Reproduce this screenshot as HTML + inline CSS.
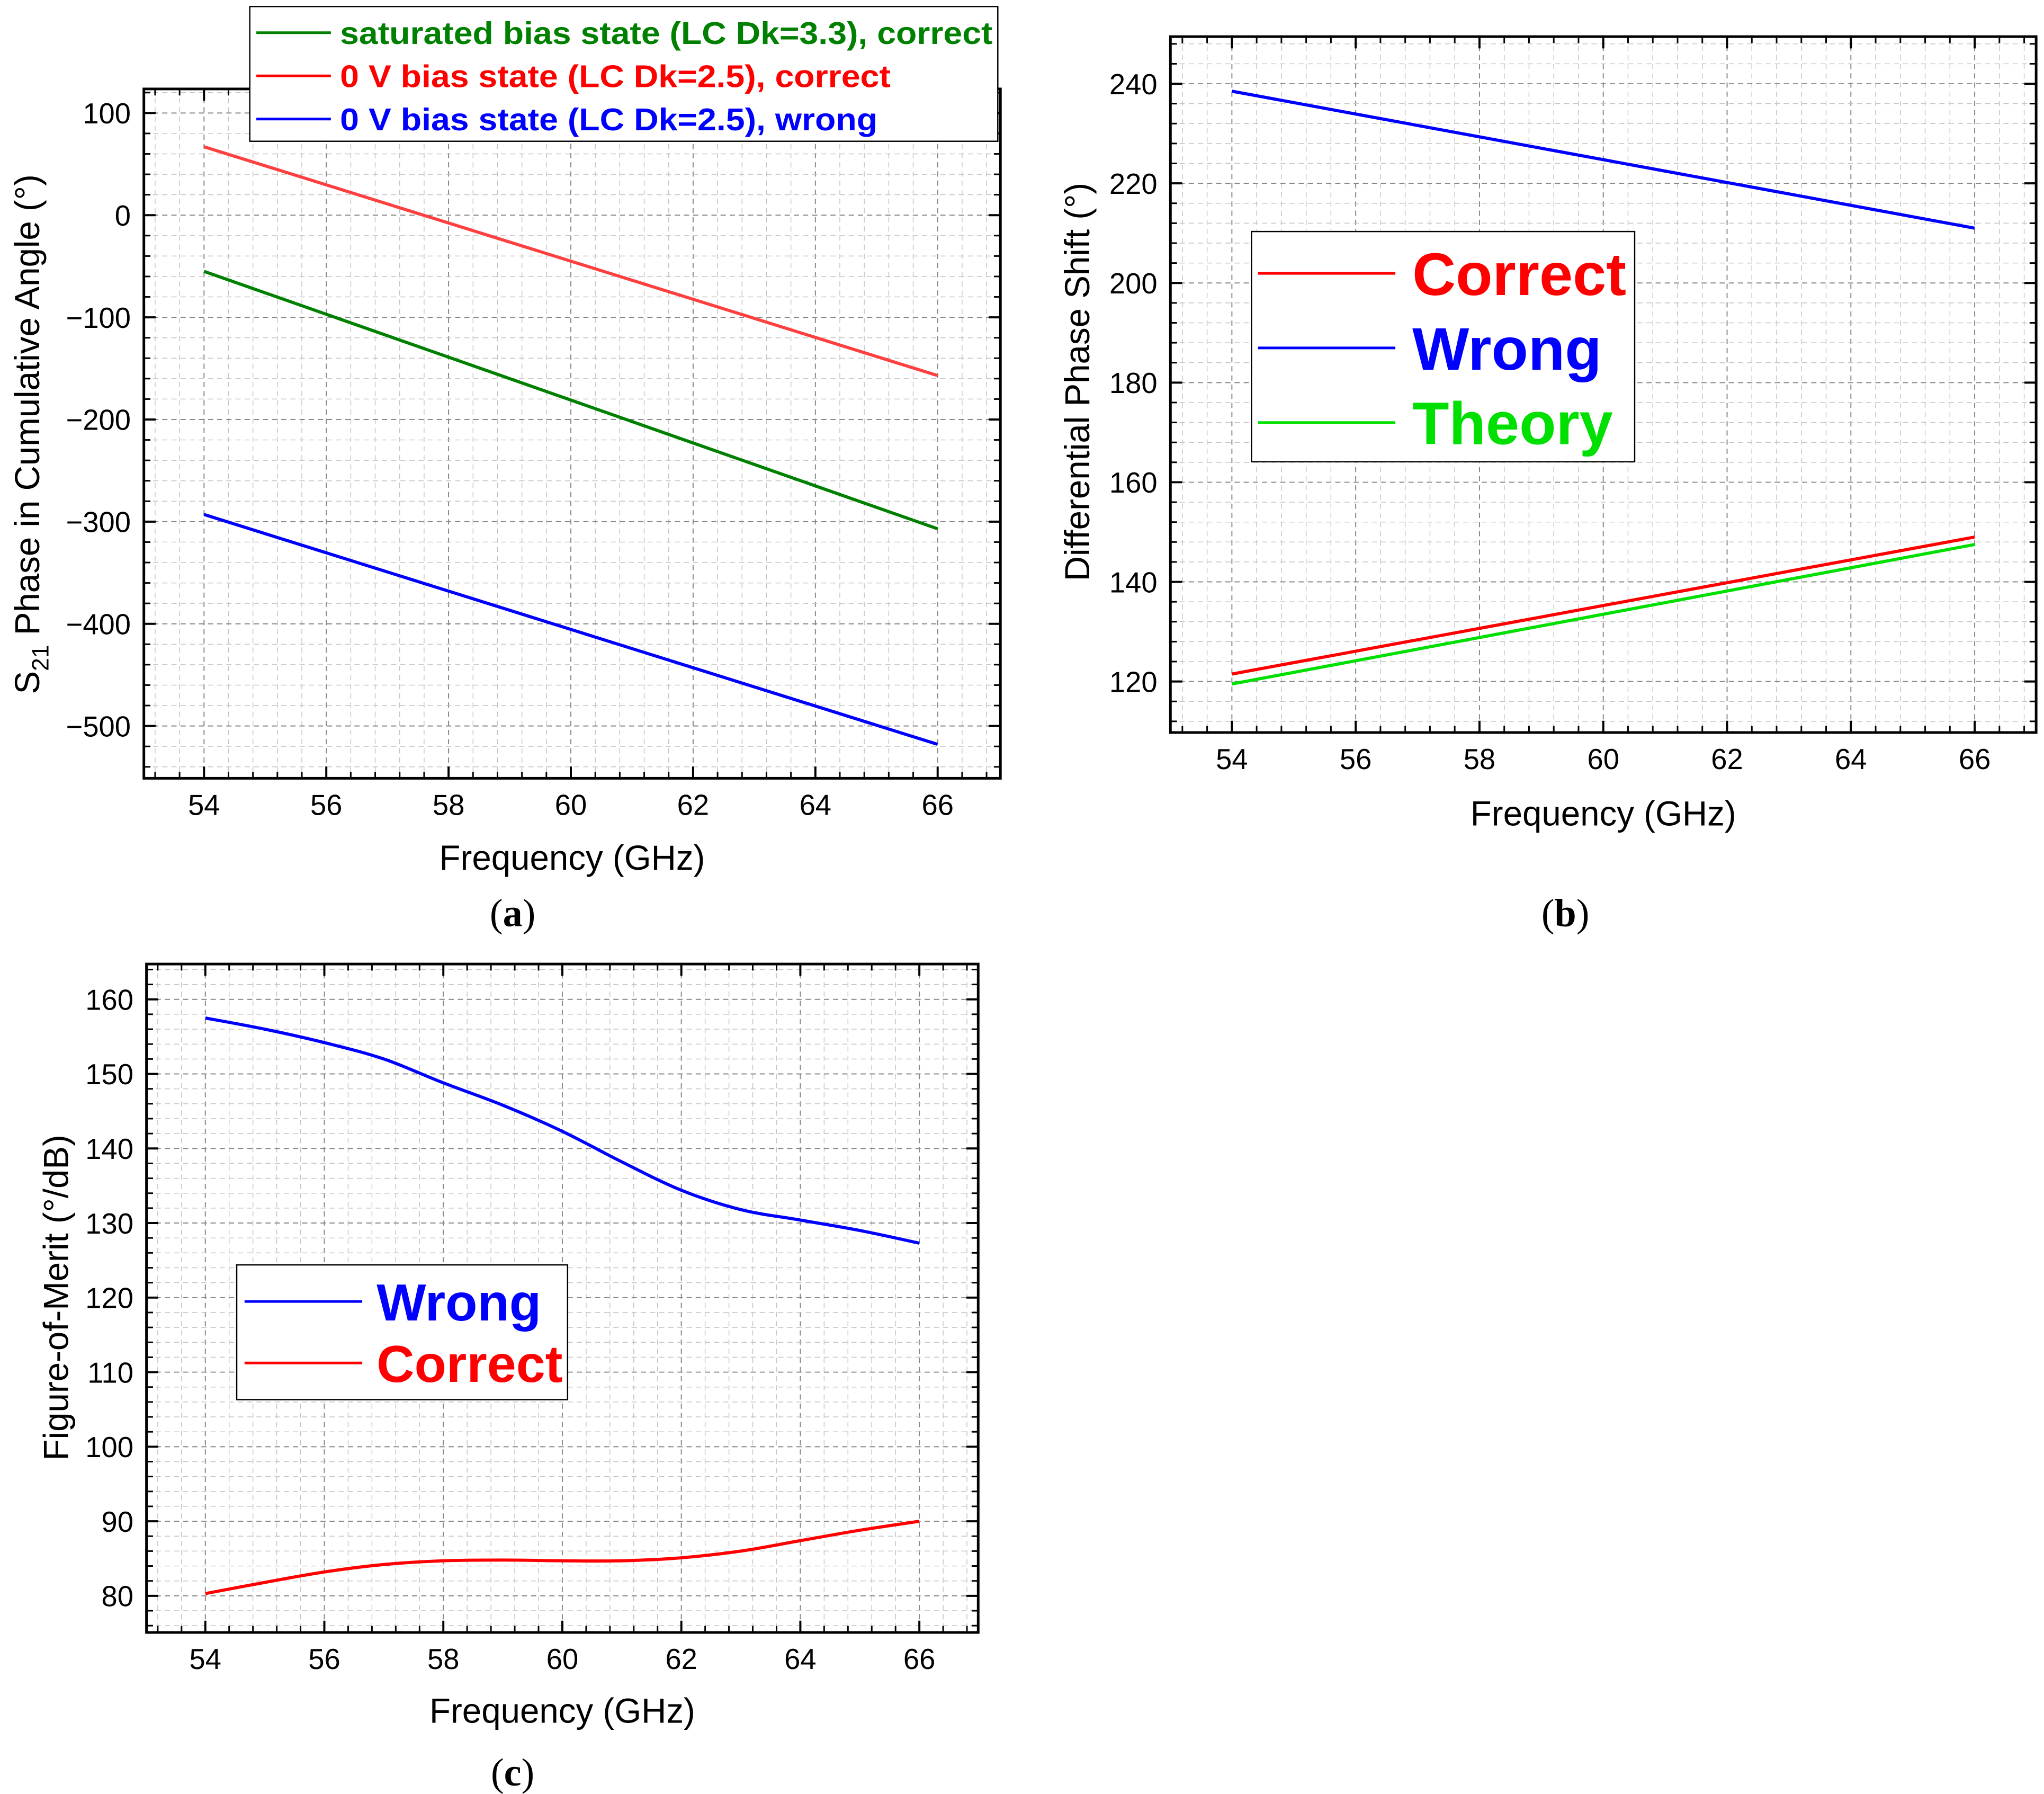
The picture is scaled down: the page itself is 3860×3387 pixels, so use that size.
<!DOCTYPE html>
<html><head><meta charset="utf-8"><style>
html,body{margin:0;padding:0;background:#fff}
svg{display:block}
text{font-family:"Liberation Sans",Arial,sans-serif}
</style></head><body>
<svg id="fig" xmlns="http://www.w3.org/2000/svg" width="3860" height="3387" viewBox="0 0 1563 1371.5"></svg>
<script>
// ---- Data ----
const freqA = [54, 66];
const greenA = [-55, -307];
const redA = [67, -157];
const blueA = [-293, -518];
const yTicksA = [100, 0, -100, -200, -300, -400, -500];
const yLabelsA = ["100", "0", "\u2212100", "\u2212200", "\u2212300", "\u2212400", "\u2212500"];

const freqB = [54, 66];
const wrongB = [238.5, 211];
const correctB = [121.5, 149];
const theoryB = [119.5, 147.5];
const yTicksB = [120, 140, 160, 180, 200, 220, 240];

const freqC = [54, 55, 56, 57, 58, 59, 60, 61, 62, 63, 64, 65, 66];
const wrongC = [157.5, 156, 154.2, 152, 148.8, 145.8, 142.3, 138.2, 134.4, 131.8, 130.4, 129, 127.3];
const correctC = [80.3, 81.8, 83.2, 84.2, 84.7, 84.8, 84.7, 84.7, 85.1, 86, 87.4, 88.8, 90];
const yTicksC = [80, 90, 100, 110, 120, 130, 140, 150, 160];

const xTicks = [54, 56, 58, 60, 62, 64, 66];

const NS = "http://www.w3.org/2000/svg";
const svg = document.getElementById('fig');
function mk(tag, attrs, parent, txt) {
  const e = document.createElementNS(NS, tag);
  for (const k in attrs) e.setAttribute(k, attrs[k]);
  if (txt !== undefined) e.textContent = txt;
  (parent || svg).appendChild(e);
  return e;
}
function lin(d0, d1, r0, r1) { return v => r0 + (v - d0) * (r1 - r0) / (d1 - d0); }

function smoothPath(pts) {
  let d = `M${pts[0][0]},${pts[0][1]}`;
  for (let i = 0; i < pts.length - 1; i++) {
    const p0 = pts[i - 1] || pts[i], p1 = pts[i], p2 = pts[i + 1], p3 = pts[i + 2] || p2;
    const c1 = [p1[0] + (p2[0] - p0[0]) / 6, p1[1] + (p2[1] - p0[1]) / 6];
    const c2 = [p2[0] - (p3[0] - p1[0]) / 6, p2[1] - (p3[1] - p1[1]) / 6];
    d += ` C${c1[0]},${c1[1]} ${c2[0]},${c2[1]} ${p2[0]},${p2[1]}`;
  }
  return d;
}

function plot(cfg) {
  const g = mk('g', {});
  
  
  const X = lin(54, 66, cfg.x54, cfg.x66), Y = lin(cfg.yA, cfg.yB, cfg.pyA, cfg.pyB);
  const L = cfg.L, R = cfg.R, T = cfg.T, B = cfg.B;
  const grid = mk('g', {}, g);
  
  
  for (let v = 52; v <= 68.01; v += 0.4) {
    const x = X(v); if (x <= L + 1 || x >= R - 1) continue;
    const maj = Math.abs(v - Math.round(v)) < 0.01 && Math.round(v) % 2 === 0;
    mk('line', {x1: x, x2: x, y1: T, y2: B, stroke: maj ? '#888' : '#c4c4c4', 'stroke-width': maj ? 0.8 : 0.6, 'stroke-dasharray': '4,3'}, grid);
    mk('line', {x1: x, x2: x, y1: B, y2: B - (maj ? 9 : 5), stroke: '#000', 'stroke-width': maj ? 1.6 : 1.2}, g);
    mk('line', {x1: x, x2: x, y1: T, y2: T + (maj ? 9 : 5), stroke: '#000', 'stroke-width': maj ? 1.6 : 1.2}, g);
  }
  for (let v = cfg.gridFrom; v <= cfg.gridTo + 1e-6; v += cfg.minor) {
    const y = Y(v); if (y <= T + 1 || y >= B - 1) continue;
    const maj = cfg.yTicks.some(t => Math.abs(t - v) < 1e-6);
    mk('line', {x1: L, x2: R, y1: y, y2: y, stroke: maj ? '#888' : '#c4c4c4', 'stroke-width': maj ? 0.8 : 0.6, 'stroke-dasharray': '4,3'}, grid);
    mk('line', {x1: L, x2: L + (maj ? 9 : 5), y1: y, y2: y, stroke: '#000', 'stroke-width': maj ? 1.6 : 1.2}, g);
    mk('line', {x1: R, x2: R - (maj ? 9 : 5), y1: y, y2: y, stroke: '#000', 'stroke-width': maj ? 1.6 : 1.2}, g);
  }
  const fr = mk('rect', {x: L, y: T, width: R - L, height: B - T, fill: 'none', stroke: '#000', 'stroke-width': 2}, g);
  
  
  xTicks.forEach(v => {
    const t = mk('text', {x: X(v), y: B + 28, 'font-size': 22, 'text-anchor': 'middle'}, g, String(v));
    
    
  });
  cfg.yTicks.forEach((v, i) => {
    const t = mk('text', {x: L - 10, y: Y(v) + 8, 'font-size': 22, 'text-anchor': 'end'}, g, cfg.yLabels ? cfg.yLabels[i] : String(v));
    
    
  });
  const xt = mk('text', {x: (L + R) / 2, y: cfg.xTitleY, 'font-size': 26.5, 'text-anchor': 'middle'}, g, 'Frequency (GHz)');
  
  
  const yt = mk('text', {x: 0, y: 0, 'font-size': 26.5, 'text-anchor': 'middle', transform: `translate(${cfg.yTitleX},${cfg.yTitleY}) rotate(-90)`}, g);
  
  
  if (cfg.s21) {
    yt.appendChild(document.createTextNode('S'));
    mk('tspan', {'font-size': 18, dy: 7}, yt, '21');
    mk('tspan', {dy: -7}, yt, ' Phase in Cumulative Angle (\u00b0)');
  } else yt.textContent = cfg.yTitle;
  cfg.series.forEach(s => {
    const pts = s.x.map((f, i) => [X(f), Y(s.y[i])]);
    const p = mk('path', {d: smoothPath(pts), fill: 'none', stroke: s.color, 'stroke-width': 2.4, 'stroke-linejoin': 'round'}, g);
    
    
  });
  return g;
}

plot({name: 'chart-a', L: 110, R: 765, T: 68, B: 595, x54: 156, x66: 717, yA: 0, yB: -500, pyA: 164.5, pyB: 555,
  gridFrom: -560, gridTo: 140, minor: 20, yTicks: yTicksA, yLabels: yLabelsA, xTitleY: 665, yTitleX: 30, yTitleY: 332, s21: true,
  series: [
    {name: 'series-green-saturated', x: freqA, y: greenA, color: '#008000'},
    {name: 'series-red-0v-correct', x: freqA, y: redA, color: '#ff4040'},
    {name: 'series-blue-0v-wrong', x: freqA, y: blueA, color: '#0000ff'}]});

plot({name: 'chart-b', L: 895, R: 1557, T: 28, B: 560, x54: 942, x66: 1510, yA: 120, yB: 240, pyA: 521, pyB: 64,
  gridFrom: 108, gridTo: 252, minor: 4, yTicks: yTicksB, xTitleY: 631, yTitleX: 833, yTitleY: 292, yTitle: 'Differential Phase Shift (\u00b0)',
  series: [
    {name: 'series-wrong', x: freqB, y: wrongB, color: '#0000ff'},
    {name: 'series-theory', x: freqB, y: theoryB, color: '#00e000'},
    {name: 'series-correct', x: freqB, y: correctB, color: '#ff0000'}]});

plot({name: 'chart-c', L: 112, R: 748, T: 737, B: 1248, x54: 157, x66: 703, yA: 80, yB: 160, pyA: 1220, pyB: 764,
  gridFrom: 74, gridTo: 166, minor: 2, yTicks: yTicksC, xTitleY: 1317, yTitleX: 52, yTitleY: 992, yTitle: 'Figure-of-Merit (\u00b0/dB)',
  series: [
    {name: 'series-wrong', x: freqC, y: wrongC, color: '#0000ff'},
    {name: 'series-correct', x: freqC, y: correctC, color: '#ff0000'}]});

function legend(name, box, items, lx1, lx2, tx, fs) {
  const g = mk('g', {});
  
  
  mk('rect', {x: box[0], y: box[1], width: box[2], height: box[3], fill: '#fff', stroke: '#000', 'stroke-width': 1}, g);
  items.forEach(it => {
    const e = mk('g', {}, g);
    
    
    mk('line', {x1: lx1, x2: lx2, y1: it[2], y2: it[2], stroke: it[1], 'stroke-width': 2}, e);
    const a = {x: tx, y: it[2] + fs * 0.36, 'font-size': fs, 'font-weight': 'bold', fill: it[1]};
    if (it[3]) { a.textLength = it[3]; a.lengthAdjust = 'spacingAndGlyphs'; }
    mk('text', a, e, it[0]);
  });
}
legend('legend-a', [191, 5, 572, 103], [
  ['saturated bias state (LC Dk=3.3), correct', '#008000', 25, 499],
  ['0 V bias state (LC Dk=2.5), correct', '#ff0000', 58, 421],
  ['0 V bias state (LC Dk=2.5), wrong', '#0000ff', 91, 411]], 196, 253, 260, 24);
legend('legend-b', [957, 177, 293, 176], [
  ['Correct', '#ff0000', 209], ['Wrong', '#0000ff', 266], ['Theory', '#00e000', 323]], 962, 1067, 1080, 46);
legend('legend-c', [181, 967, 253, 103], [
  ['Wrong', '#0000ff', 995], ['Correct', '#ff0000', 1042]], 187, 277, 288, 40);

[['(', 'a', ')', 392, 708], ['(', 'b', ')', 1197, 708], ['(', 'c', ')', 392, 1365]].forEach(p => {
  const t = mk('text', {x: p[3], y: p[4], 'font-size': 30, 'text-anchor': 'middle', style: 'font-family:"Liberation Serif",serif'});
  
  
  t.appendChild(document.createTextNode(p[0]));
  mk('tspan', {'font-weight': 'bold'}, t, p[1]);
  t.appendChild(document.createTextNode(p[2]));
});
</script>
</body></html>
